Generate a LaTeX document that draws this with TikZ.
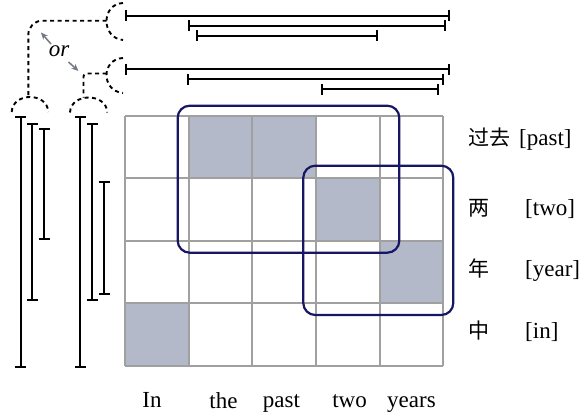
\documentclass[tikz,border=0pt]{standalone}
\usepackage{fontspec}
\setmainfont{Liberation Serif}
\newfontfamily\cjk{Noto Sans CJK SC}
\usetikzlibrary{arrows.meta}
\definecolor{cellfill}{RGB}{179,185,200}
\definecolor{gridgray}{RGB}{160,160,160}
\definecolor{boxnavy}{RGB}{22,22,100}
\definecolor{arrgray}{RGB}{115,120,132}
\begin{document}
\begin{tikzpicture}[x=1pt,y=-1pt,
  spanbar/.style={line width=2pt,{Bar[width=11pt]}-{Bar[width=11pt]}},
  dsh/.style={line width=1.9pt,dash pattern=on 4pt off 3.5pt},
  shade/.style={fill=cellfill},
  gridln/.style={draw=gridgray,line width=2pt},
  group/.style={draw=boxnavy,line width=2.2pt,rounded corners=12pt},
  lbl/.style={font=\fontsize{23}{27}\selectfont,inner sep=0pt},
  zh/.style={font=\fontsize{21}{25}\selectfont\cjk,inner sep=0pt},
  orarrow/.style={draw=arrgray,line width=1.5pt,-{Stealth[length=7pt,width=6pt]}}
]
\useasboundingbox (0,0) rectangle (579,413);

% ---- grid ----
\def\gx{125}\def\gw{63.67}\def\gy{115.7}\def\gh{62.5}
\foreach \r/\c in {0/1,0/2,1/3,2/4,3/0}{
  \fill[shade] ({\gx+\c*\gw},{\gy+\r*\gh}) rectangle ++(\gw,\gh);
}
\foreach \c in {0,...,5}{
  \draw[gridln] ({\gx+\c*\gw},\gy) -- ({\gx+\c*\gw},{\gy+4*\gh});
}
\foreach \r in {0,...,4}{
  \draw[gridln] (\gx,{\gy+\r*\gh}) -- ({\gx+5*\gw},{\gy+\r*\gh});
}

% ---- group boxes ----
\draw[group] (177.7,105.7) rectangle (399.3,252.7);
\draw[group] (303.3,165.7) rectangle (453.3,315);

% ---- right labels ----
\node[zh,anchor=base west] (z1) at (468,145) {过去};
\node[lbl,anchor=base west] (e1) at (519,145) {[past]};
\node[zh,anchor=base west] (z2) at (468,215) {两};
\node[lbl,anchor=base west] (e2) at (525,215) {[two]};
\node[zh,anchor=base west] (z3) at (468,276) {年};
\node[lbl,anchor=base west] (e3) at (525,276) {[year]};
\node[zh,anchor=base west] (z4) at (468,338) {中};
\node[lbl,anchor=base west] (e4) at (525,338) {[in]};

% ---- bottom labels ----
\node[lbl,anchor=base] (b1) at (152,407) {In};
\node[lbl,anchor=base] (b2) at (223.5,408.5) {the};
\node[lbl,anchor=base] (b3) at (281.5,407) {past};
\node[lbl,anchor=base] (b4) at (349.5,407) {two};
\node[lbl,anchor=base] (b5) at (411.5,407) {years};

% ---- top span bars ----
\draw[spanbar] (125,15.7) -- (450,15.7);
\draw[spanbar] (188.3,25.7) -- (445.7,25.7);
\draw[spanbar] (195.7,35.7) -- (377.7,35.7);
\draw[spanbar] (125,69.3) -- (450,69.3);
\draw[spanbar] (187.3,79) -- (444.3,79);
\draw[spanbar] (321,89) -- (439,89);

% ---- left span bars ----
\draw[spanbar] (20.7,116) -- (20.7,367.7);
\draw[spanbar] (32.3,122.7) -- (32.3,301);
\draw[spanbar] (44.3,128.3) -- (44.3,240);
\draw[spanbar] (80,116) -- (80,367.7);
\draw[spanbar] (92.3,122.7) -- (92.3,301);
\draw[spanbar] (104,180.7) -- (104,295);

% ---- dashed brackets ----
\draw[dsh] (123,3) .. controls (101,4) and (101,38) .. (123,40);
\draw[dsh] (123,58) .. controls (101,59) and (101,91) .. (123,93);
\draw[dsh] (11.7,112) .. controls (12.5,92) and (47.5,92) .. (48.3,112);
\draw[dsh] (70,112.5) .. controls (70.8,92.5) and (106.5,92.5) .. (107.3,112.5);
\draw[dsh,rounded corners=14pt] (106.5,20.7) -- (28.3,20.7) -- (28.3,97);
\draw[dsh,rounded corners=3pt] (106.5,73.5) -- (83.5,73.5) -- (83.5,97.5);

% ---- or ----
\node[lbl,font=\fontsize{23}{27}\selectfont\itshape] (orl) at (59,51) {or};
\coordinate (oa1) at (51,44);
\coordinate (oa2) at (41,32.5);
\coordinate (ob1) at (68.5,62);
\coordinate (ob2) at (78.5,71);
\draw[orarrow] (oa1) -- (oa2);
\draw[orarrow] (ob1) -- (ob2);
\end{tikzpicture}
\end{document}
